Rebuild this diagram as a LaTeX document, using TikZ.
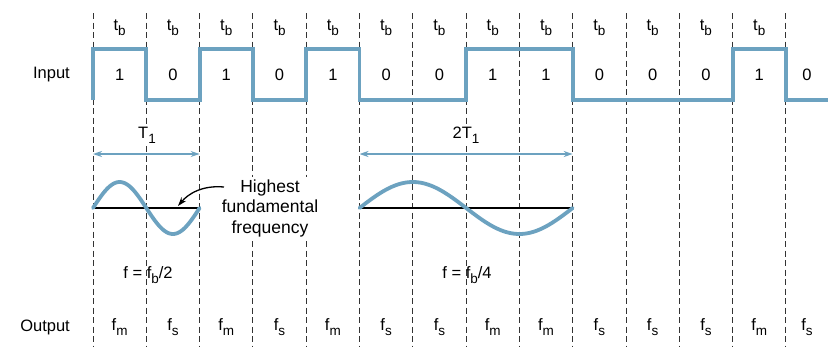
\documentclass[tikz,border=0pt]{standalone}
\usepackage{fontspec}
\setmainfont{Liberation Sans}
\usetikzlibrary{arrows.meta}
\definecolor{wave}{RGB}{108,162,192}
\newcommand{\subl}[1]{\raisebox{-0.3em}{\fontsize{13.5}{13.5}\selectfont #1}}
\tikzset{
  lbl/.style={font=\fontsize{16.5}{18}\selectfont, inner sep=1pt},
  dashline/.style={black!80, line width=0.9pt, dash pattern=on 6pt off 3.5pt},
  wavepath/.style={wave, line width=3.8pt, line join=miter},
  sinepath/.style={wave, line width=3.8pt, line cap=round},
  axisline/.style={black, line width=1.6pt},
  period/.style={wave, line width=1.3pt, {Stealth[length=9pt,width=6pt]}-{Stealth[length=9pt,width=6pt]}},
  pointer/.style={black, line width=1.3pt, -{Stealth[length=9pt,width=6pt]}}
}
\begin{document}
\begin{tikzpicture}[x=1pt,y=-1pt]
\useasboundingbox[fill=white] (0,0) rectangle (828,346);
% dashed bit boundaries
\foreach \i in {0,...,13} {
  \draw[dashline] ({93+53.3*\i},13) -- ({93+53.3*\i},346);
}
% t_b labels, bits and outputs
\foreach \b [count=\i from 0] in {1,0,1,0,1,0,0,1,1,0,0,0,1} {
  \node[lbl] (tb\i) at ({119.65+53.3*\i},28) {t\subl{b}};
}
\foreach \b [count=\i from 0] in {1,0,1,0,1,0,0,1,1,0,0,0,1,0} {
  \pgfmathsetmacro{\cx}{ifthenelse(\i==13,807,119.65+53.3*\i)}
  \node[lbl] (bit\i) at (\cx,75) {\b};
}
\foreach \o [count=\i from 0] in {m,s,m,s,m,s,s,m,m,s,s,s,m,s} {
  \pgfmathsetmacro{\cx}{ifthenelse(\i==13,807,119.65+53.3*\i)}
  \node[lbl] (out\i) at (\cx,327) {f\subl{\o}};
}
\node[lbl, anchor=east] (input) at (71,75) {Input};
\node[lbl, anchor=east] (output) at (71,327) {Output};
% input waveform
\draw[wavepath] (93,100)--(93,49)--(146.3,49)--(146.3,100)--(199.6,100)--(199.6,49)
  --(252.9,49)--(252.9,100)--(306.2,100)--(306.2,49)--(359.5,49)--(359.5,100)
  --(466.1,100)--(466.1,49)--(572.7,49)--(572.7,100)--(732.6,100)--(732.6,49)
  --(785.9,49)--(785.9,100)--(828,100);
% period markers
\node[lbl, fill=white, inner sep=3pt] (T1) at (147,135) {T\subl{1}};
\node[lbl, fill=white, inner sep=3pt] (T2) at (466,135) {2T\subl{1}};
\coordinate (a1) at (93,154); \coordinate (b1) at (199.6,154);
\coordinate (a2) at (359.5,154); \coordinate (b2) at (572.7,154);
\draw[period] (a1) -- (b1);
\draw[period] (a2) -- (b2);
% sine waves
\coordinate (s1a) at (93,208); \coordinate (s1b) at (199.6,208);
\coordinate (s2a) at (359.5,208); \coordinate (s2b) at (572.7,208);
\draw[axisline] (s1a) -- (s1b);
\draw[axisline] (s2a) -- (s2b);
\draw[sinepath] plot[domain=0:360, samples=72] ({93+\x/360*106.6},{208-26*sin(\x)});
\draw[sinepath] plot[domain=0:360, samples=90] ({359.5+\x/360*213.2},{208-26*sin(\x)});
% annotation
\node[lbl, font=\fontsize{17.5}{20.5}\selectfont, fill=white, align=center, inner sep=2pt] (hff) at (270,208)
  {Highest\\fundamental\\frequency};
\coordinate (pstart) at (224,187);
\coordinate (ptip) at (178,206);
\draw[pointer] (pstart) .. controls +(-22,-2) and +(10,-12) .. (ptip);
% frequency labels
\node[lbl] (f1) at (148,275) {f = f\subl{b}/2};
\node[lbl] (f2) at (467,275) {f = f\subl{b}/4};
\end{tikzpicture}
\end{document}
